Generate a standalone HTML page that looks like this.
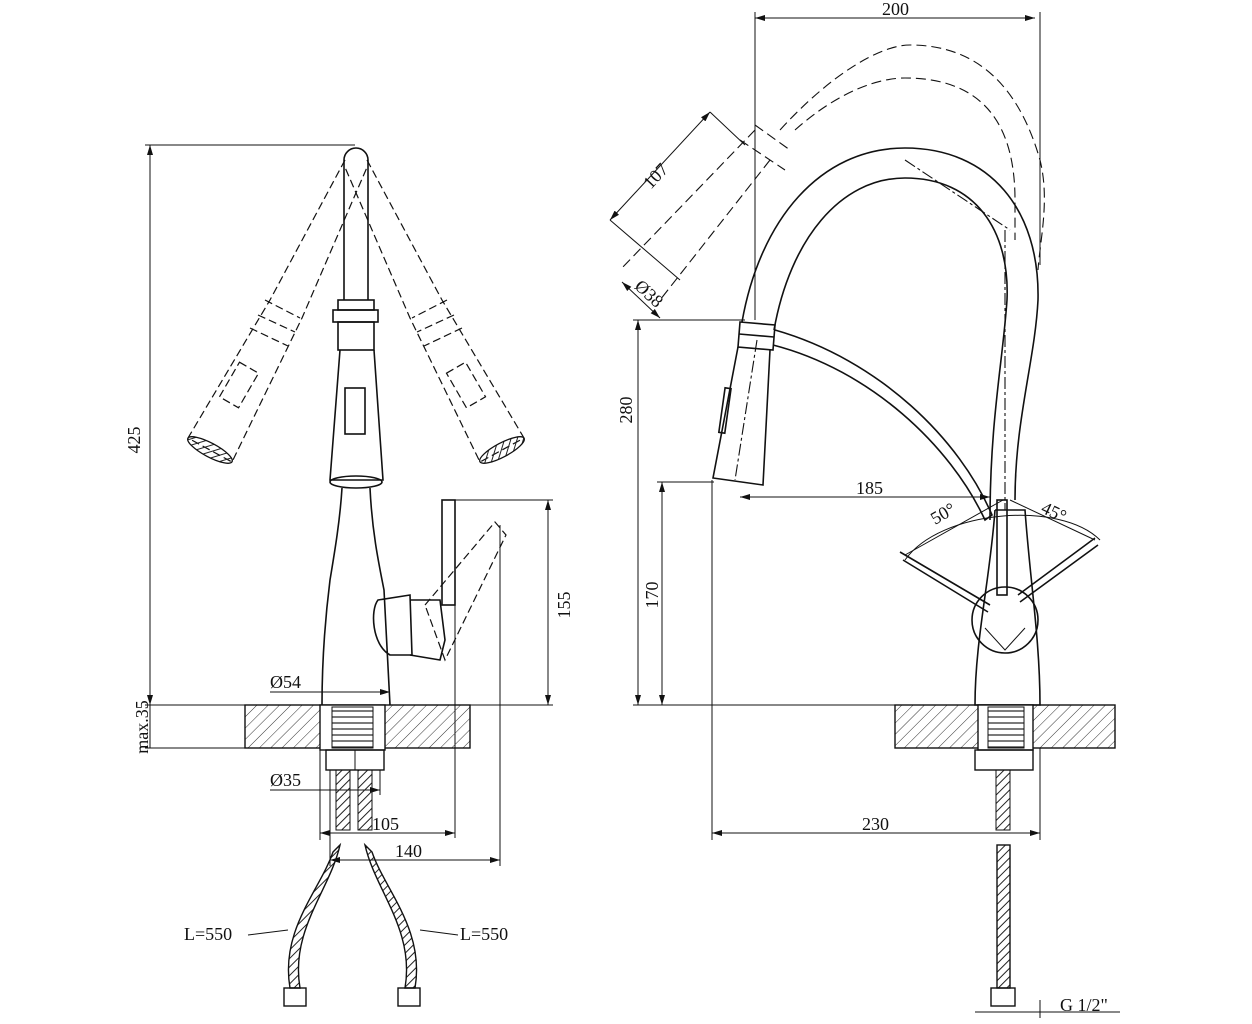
<!DOCTYPE html>
<html><head><meta charset="utf-8"><style>body{margin:0;background:#fff}svg{display:block}text{font-family:"Liberation Serif",serif;font-size:18px;fill:#111}</style></head>
<body>
<svg width="1252" height="1024" viewBox="0 0 1252 1024" xmlns="http://www.w3.org/2000/svg">
<defs>
<pattern id="h" width="8" height="8" patternUnits="userSpaceOnUse" patternTransform="rotate(45)"><line x1="0" y1="0" x2="0" y2="8" stroke="#333" stroke-width="1"/></pattern>
<pattern id="hz" width="6" height="6" patternUnits="userSpaceOnUse"><line x1="0" y1="3" x2="6" y2="3" stroke="#222" stroke-width="1.2"/></pattern>
<pattern id="hose" width="6" height="6" patternUnits="userSpaceOnUse" patternTransform="rotate(45)"><line x1="0" y1="0" x2="0" y2="6" stroke="#222" stroke-width="2"/></pattern>
<marker id="a" markerWidth="10" markerHeight="6" refX="10" refY="3" orient="auto-start-reverse"><path d="M0,0 L10,3 L0,6 z" fill="#111"/></marker>
</defs>
<g fill="none" stroke="#111" stroke-width="1">
<!-- LEFT VIEW dims -->
<line x1="145" y1="145" x2="355" y2="145"/>
<line x1="150" y1="145" x2="150" y2="705" marker-start="url(#a)" marker-end="url(#a)"/>
<line x1="145" y1="705" x2="245" y2="705"/>
<line x1="145" y1="748" x2="245" y2="748"/>
<line x1="150" y1="705" x2="150" y2="748"/>
<line x1="455" y1="500" x2="553" y2="500"/>
<line x1="390" y1="705" x2="553" y2="705"/>
<line x1="548" y1="500" x2="548" y2="705" marker-start="url(#a)" marker-end="url(#a)"/>
<line x1="270" y1="692" x2="390" y2="692" marker-end="url(#a)"/>
<line x1="270" y1="790" x2="380" y2="790" marker-end="url(#a)"/>
<line x1="320" y1="748" x2="320" y2="840"/>
<line x1="330" y1="770" x2="330" y2="866"/>
<line x1="380" y1="770" x2="380" y2="795"/>
<line x1="455" y1="600" x2="455" y2="838"/>
<line x1="500" y1="525" x2="500" y2="866"/>
<line x1="320" y1="833" x2="455" y2="833" marker-start="url(#a)" marker-end="url(#a)"/>
<line x1="330" y1="860" x2="500" y2="860" marker-start="url(#a)" marker-end="url(#a)"/>
<!-- left faucet -->
<g stroke-width="1.6">
<path d="M344,300 L344,160 A12,12 0 0 1 368,160 L368,300"/>
<rect x="338" y="300" width="36" height="10"/>
<rect x="333" y="310" width="45" height="12"/>
<rect x="338" y="322" width="36" height="28"/>
<path d="M340,350 L330,480 L383,480 L374,350"/>
<rect x="345" y="388" width="20" height="46"/>
<ellipse cx="356" cy="482" rx="26" ry="6"/>
<path d="M342,488 C340,520 335,550 330,580 C325,620 322,660 322,705 M370,488 C372,530 378,560 384,590 L390,705"/>
<path d="M378,600 L410,595 L412,655 L390,655 C372,645 370,610 378,600 Z"/>
<path d="M410,600 L440,600 L445,640 L440,660 L410,655"/>
<rect x="442" y="500" width="13" height="105"/>
</g>
<g stroke-dasharray="8,4" stroke-width="1.2">
<path d="M425,605 L495,522 L506,535 L445,660 Z"/>
<path d="M345,160 L270,300 L188,438 L232,462 L302,318 L368,165"/>
<path d="M367,160 L442,300 L524,438 L480,462 L410,318 L344,165"/>
<path d="M265,300 L300,318 M258,315 L295,332 M250,328 L288,346"/>
<path d="M447,300 L412,318 M454,315 L417,332 M462,328 L424,346"/>
<rect x="228" y="365" width="22" height="40" transform="rotate(30 239 385)"/>
<rect x="455" y="365" width="22" height="40" transform="rotate(-30 466 385)"/>
</g>
<ellipse cx="210" cy="450" rx="25" ry="7" transform="rotate(28 210 450)" stroke-width="1.3" fill="url(#hose)"/>
<ellipse cx="502" cy="450" rx="25" ry="7" transform="rotate(-28 502 450)" stroke-width="1.3" fill="url(#hose)"/>
<!-- countertop left -->
<rect x="245" y="705" width="225" height="43" fill="url(#h)" stroke-width="1.4"/>
<rect x="320" y="705" width="65" height="45" fill="#fff" stroke-width="1.4"/>
<rect x="332" y="707" width="41" height="41" fill="url(#hz)"/>
<rect x="326" y="750" width="58" height="20" stroke-width="1.4"/>
<line x1="355" y1="750" x2="355" y2="770"/>
<rect x="336" y="770" width="14" height="60" fill="url(#hose)"/>
<rect x="358" y="770" width="14" height="60" fill="url(#hose)"/>
<!-- hoses left -->
<path d="M333,852 L340,845 C330,890 290,930 300,988 L290,988 C280,930 320,890 333,852 Z" fill="url(#hose)" stroke-width="1.4"/>
<path d="M372,852 L365,845 C375,890 415,930 405,988 L415,988 C425,930 385,890 372,852 Z" fill="url(#hose)" stroke-width="1.4"/>
<rect x="284" y="988" width="22" height="18" stroke-width="1.4"/>
<rect x="398" y="988" width="22" height="18" stroke-width="1.4"/>
<path d="M248,935 L288,930 M458,935 L420,930"/>
<!-- RIGHT VIEW dims -->
<line x1="755" y1="18" x2="1035" y2="18" marker-start="url(#a)" marker-end="url(#a)"/>
<line x1="755" y1="12" x2="755" y2="320"/>
<line x1="1040" y1="12" x2="1040" y2="265"/>
<line x1="633" y1="320" x2="745" y2="320"/>
<line x1="638" y1="320" x2="638" y2="705" marker-start="url(#a)" marker-end="url(#a)"/>
<line x1="657" y1="482" x2="714" y2="482"/>
<line x1="662" y1="482" x2="662" y2="705" marker-start="url(#a)" marker-end="url(#a)"/>
<line x1="633" y1="705" x2="895" y2="705"/>
<line x1="712" y1="480" x2="712" y2="840"/>
<line x1="740" y1="497" x2="990" y2="497" marker-start="url(#a)" marker-end="url(#a)"/>
<line x1="712" y1="833" x2="1040" y2="833" marker-start="url(#a)" marker-end="url(#a)"/>
<line x1="1040" y1="748" x2="1040" y2="840"/>
<!-- right spout -->
<g stroke-width="1.6">
<path d="M742,322 C760,220 820,148 905,148 C990,148 1040,210 1038,300 C1035,360 1015,420 1015,500"/>
<path d="M774,330 C790,240 840,178 905,178 C975,178 1010,230 1007,300 C1003,360 990,420 990,520"/>
<path d="M740,322 L775,325 L773,350 L738,347 Z"/>
<line x1="739" y1="334" x2="774" y2="337"/>
<path d="M738,347 L713,478 L763,485 L770,350"/>
<rect x="722" y="388" width="6" height="45" transform="rotate(8 725 410)"/>
<path d="M775,330 C880,360 960,440 992,515 L985,520 C950,445 870,370 773,345"/>
<path d="M995,510 L1025,510 C1030,580 1040,640 1040,705 L975,705 C975,640 990,580 995,510"/>
<circle cx="1005" cy="620" r="33"/>
<rect x="997" y="500" width="10" height="95"/>
<path d="M905,555 L1003,500 M1095,540 L1010,500" stroke-width="1"/>
<path d="M900,552 L990,605 M903,560 L988,612 M1098,545 L1020,602 M1095,538 L1018,595"/>
<path d="M985,628 L1005,650 L1025,628" stroke-width="1"/>
</g>
<path d="M905,560 C940,510 1060,500 1100,540" stroke-width="1"/>
<g stroke-dasharray="10,5" stroke-width="1.1">
<path d="M780,130 C830,75 880,45 910,45 C980,45 1020,90 1040,160 C1050,200 1040,240 1038,270"/>
<path d="M795,130 C840,90 880,78 905,78 C970,78 1015,110 1015,200 L1015,240"/>
<path d="M755,130 L620,270 M770,160 L660,300"/>
<path d="M740,140 L785,170 M755,125 L790,150"/>
<line x1="905" y1="160" x2="1010" y2="230" stroke-dasharray="12,3,3,3"/>
<line x1="757" y1="340" x2="735" y2="480" stroke-dasharray="12,3,3,3"/>
<line x1="1005" y1="230" x2="1005" y2="510" stroke-dasharray="12,3,3,3"/>
</g>
<line x1="610" y1="220" x2="710" y2="112" marker-start="url(#a)" marker-end="url(#a)"/>
<line x1="710" y1="112" x2="745" y2="145"/>
<line x1="610" y1="220" x2="680" y2="280"/>
<line x1="622" y1="282" x2="660" y2="318" marker-start="url(#a)" marker-end="url(#a)"/>
<!-- countertop right -->
<rect x="895" y="705" width="220" height="43" fill="url(#h)" stroke-width="1.4"/>
<rect x="978" y="705" width="55" height="45" fill="#fff" stroke-width="1.4"/>
<rect x="988" y="707" width="36" height="41" fill="url(#hz)"/>
<rect x="975" y="750" width="58" height="20" stroke-width="1.4"/>
<rect x="996" y="770" width="14" height="60" fill="url(#hose)"/>
<rect x="997" y="845" width="13" height="143" fill="url(#hose)" stroke-width="1.4"/>
<rect x="991" y="988" width="24" height="18" stroke-width="1.4"/>
<line x1="975" y1="1012" x2="1120" y2="1012"/>
<line x1="1040" y1="1000" x2="1040" y2="1018"/>
</g>
<text x="140" y="440" transform="rotate(-90 140 440)" text-anchor="middle">425</text>
<text x="148" y="727" transform="rotate(-90 148 727)" text-anchor="middle" font-size="16">max.35</text>
<text x="570" y="605" transform="rotate(-90 570 605)" text-anchor="middle">155</text>
<text x="270" y="688">Ø54</text>
<text x="270" y="786">Ø35</text>
<text x="372" y="830">105</text>
<text x="395" y="857">140</text>
<text x="184" y="940">L=550</text>
<text x="460" y="940">L=550</text>
<text x="882" y="15">200</text>
<text x="632" y="410" transform="rotate(-90 632 410)" text-anchor="middle">280</text>
<text x="658" y="595" transform="rotate(-90 658 595)" text-anchor="middle">170</text>
<text x="856" y="494">185</text>
<text x="862" y="830">230</text>
<text x="1060" y="1011" font-size="16">G 1/2"</text>
<text x="660" y="180" transform="rotate(-47 660 180)" text-anchor="middle">107</text>
<text x="645" y="298" transform="rotate(43 645 298)" text-anchor="middle" font-size="16">Ø38</text>
<text x="935" y="525" transform="rotate(-30 935 525)">50°</text>
<text x="1040" y="512" transform="rotate(25 1040 512)">45°</text>
</svg>
</body></html>
